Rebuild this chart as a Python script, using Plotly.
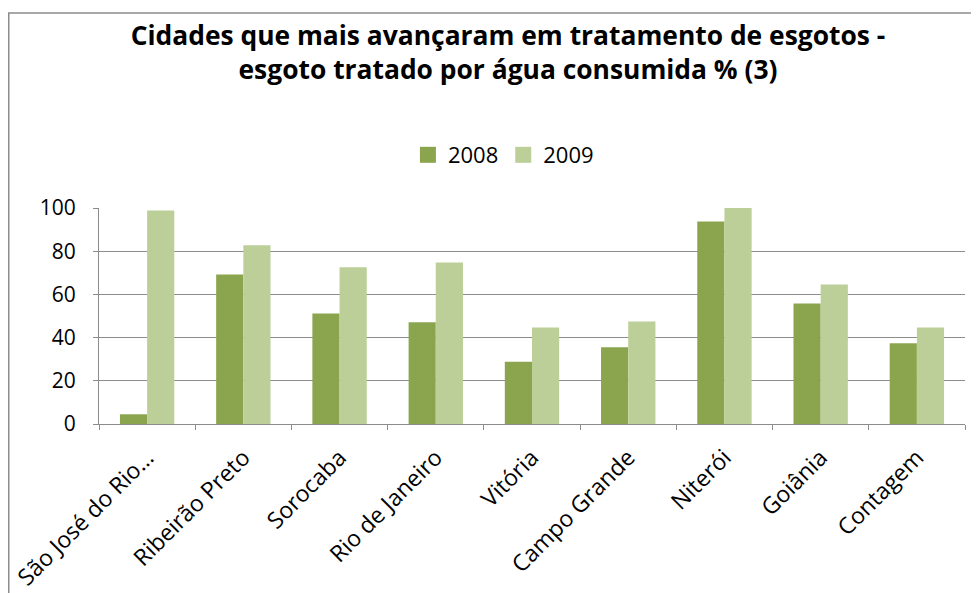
import plotly.graph_objects as go

cidades = ["São José do Rio…", "Ribeirão Preto", "Sorocaba", "Rio de Janeiro", "Vitória",
           "Campo Grande", "Niterói", "Goiânia", "Contagem"]
v2008 = [4.5, 69.2, 51.2, 47.1, 28.8, 35.5, 93.7, 55.8, 37.4]
v2009 = [98.8, 82.7, 72.6, 74.8, 44.7, 47.4, 100, 64.6, 44.7]
anos = ["2008", "2009"]
cores = ["#8AA54E", "#BCCF98"]
yticks = [0, 20, 40, 60, 80, 100]

W, H = 979, 593
OFF = 8  # page body margin
L, T = 99 - OFF, 208 - OFF
pw, ph = 866, 216
R, B = W - L - pw, H - T - ph

FONT = "Open Sans"
GRID = "#8C8C8C"

fig = go.Figure()
for nome, vals, cor in zip(anos, [v2008, v2009], cores):
    fig.add_trace(go.Bar(name=nome, x=cidades, y=vals, marker=dict(color=cor, line=dict(width=0)),
                         showlegend=False))
for nome, cor in zip(anos, cores):
    fig.add_trace(go.Scatter(name=nome, x=[None], y=[None], mode="markers",
                             marker=dict(symbol="square", size=16, color=cor)))

fig.update_layout(
    width=W, height=H,
    margin=dict(l=L, r=R, t=T, b=B, autoexpand=False),
    paper_bgcolor="white", plot_bgcolor="white",
    barmode="group", bargap=0.435, bargroupgap=0,
    font=dict(family=FONT, size=22, color="black"),
    title=dict(
        text="<b>Cidades que mais avançaram em tratamento de esgotos -<br>esgoto tratado por água consumida % (3)</b>",
        x=(508 - OFF) / W, xref="container", xanchor="center",
        y=1 - 37 / H, yref="container", yanchor="top",
        font=dict(family=FONT, size=26.4, color="black"),
    ),
    legend=dict(orientation="h", x=0.467, xanchor="center",
                y=(T + ph - (155 - OFF)) / ph, yanchor="middle", yref="paper",
                font=dict(family=FONT, size=22), itemwidth=30, tracegroupgap=0),
    showlegend=True,
)
fig.update_yaxes(range=[0, 100], tickvals=yticks, showgrid=True, gridcolor=GRID, gridwidth=1,
                 showline=True, linecolor=GRID, linewidth=1, ticks="outside", ticklen=5,
                 tickcolor=GRID, zeroline=False, ticklabelstandoff=13, fixedrange=True,
                 tickfont=dict(size=21))
fig.update_xaxes(showline=True, linecolor=GRID, linewidth=1, ticks="outside", ticklen=5,
                 tickcolor=GRID, tickson="boundaries", tickangle=-45, showgrid=False,
                 ticklabelstandoff=10, tickfont=dict(size=23))

fig.add_shape(type="rect", xref="paper", yref="paper",
              x0=(0.75 - L) / pw, x1=(W + 20 - L) / pw,
              y0=(T + ph - (H + 20)) / ph, y1=(T + ph - 5) / ph,
              line=dict(color=GRID, width=1.5), fillcolor="rgba(0,0,0,0)", layer="below")

fig.write_html("out.html")
